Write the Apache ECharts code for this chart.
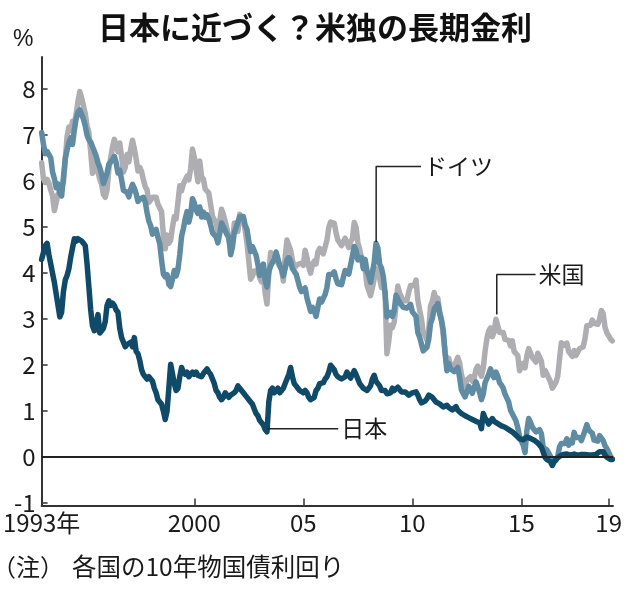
<!DOCTYPE html>
<html>
<head>
<meta charset="utf-8">
<script src="https://cdn.jsdelivr.net/npm/echarts@6/dist/echarts.min.js"></script>
<style>
  html, body { margin: 0; padding: 0; background: #fff; }
  #chart { width: 630px; height: 591px; }
</style>
</head>
<body>
<div id="chart"></div>
<script>
// 10年物国債利回り（%）、1993年1月から月ごと
const startYear = 1993

const usYield = [
  6.40, 6.05, 5.97, 6.04, 5.96, 5.81, 5.68, 5.36, 5.33, 5.72, 5.77, 5.75, // 1993
  5.97, 6.48, 6.97, 7.18, 7.10, 7.30, 7.24, 7.46, 7.74, 7.95, 7.81, 7.78, // 1994
  7.47, 7.20, 7.06, 6.63, 6.17, 6.28, 6.49, 6.20, 6.04, 5.93, 5.71, 5.65, // 1995
  5.81, 6.27, 6.51, 6.74, 6.91, 6.87, 6.64, 6.83, 6.53, 6.20, 6.30, 6.58, // 1996
  6.42, 6.69, 6.89, 6.71, 6.49, 6.22, 6.30, 6.21, 6.03, 5.88, 5.81, 5.54, // 1997
  5.57, 5.65, 5.64, 5.65, 5.50, 5.46, 5.34, 4.81, 4.53, 4.83, 4.65, 4.72, // 1998
  5.00, 5.23, 5.18, 5.54, 5.90, 5.79, 5.94, 5.92, 6.11, 6.03, 6.28, 6.70, // 1999
  6.52, 6.26, 5.99, 6.44, 6.10, 6.05, 5.83, 5.80, 5.74, 5.72, 5.24, 5.16, // 2000
  5.10, 4.89, 5.14, 5.39, 5.28, 5.24, 4.97, 4.73, 4.57, 4.65, 5.09, 5.04, // 2001
  4.91, 5.28, 5.21, 5.16, 4.93, 4.65, 4.26, 3.87, 3.94, 4.05, 4.03, 4.05, // 2002
  3.90, 3.81, 3.96, 3.57, 3.33, 3.98, 4.45, 4.27, 4.29, 4.30, 4.27, 4.15, // 2003
  4.08, 3.83, 4.35, 4.72, 4.73, 4.50, 4.28, 4.13, 4.10, 4.19, 4.23, 4.22, // 2004
  4.17, 4.50, 4.34, 4.14, 4.00, 4.18, 4.26, 4.20, 4.46, 4.54, 4.47, 4.42, // 2005
  4.57, 4.72, 4.99, 5.11, 5.11, 5.09, 4.88, 4.72, 4.73, 4.60, 4.56, 4.76, // 2006
  4.72, 4.56, 4.69, 4.75, 5.10, 5.00, 4.67, 4.52, 4.53, 4.15, 4.10, 3.74, // 2007
  3.74, 3.51, 3.68, 3.88, 4.10, 4.01, 3.89, 3.69, 3.81, 3.53, 2.25, 2.52, // 2008
  2.87, 2.82, 2.93, 3.29, 3.72, 3.56, 3.59, 3.40, 3.39, 3.40, 3.59, 3.73, // 2009
  3.69, 3.73, 3.85, 3.42, 3.20, 3.01, 2.70, 2.65, 2.54, 2.76, 3.29, 3.39, // 2010
  3.58, 3.41, 3.46, 3.17, 3.00, 3.00, 2.30, 1.98, 2.15, 2.01, 1.98, 1.97, // 2011
  1.97, 2.17, 2.05, 1.80, 1.62, 1.53, 1.68, 1.72, 1.75, 1.65, 1.72, 1.91, // 2012
  1.98, 1.96, 1.76, 1.93, 2.30, 2.58, 2.74, 2.81, 2.62, 2.72, 3.00, 2.86, // 2013
  2.71, 2.72, 2.71, 2.56, 2.60, 2.54, 2.42, 2.53, 2.30, 2.33, 2.21, 1.88, // 2014
  1.98, 2.04, 1.94, 2.20, 2.36, 2.32, 2.17, 2.17, 2.07, 2.26, 2.24, 2.09, // 2015
  1.78, 1.89, 1.81, 1.81, 1.64, 1.50, 1.56, 1.63, 1.76, 2.14, 2.49, 2.43, // 2016
  2.42, 2.48, 2.30, 2.30, 2.19, 2.32, 2.21, 2.20, 2.36, 2.35, 2.40, 2.58, // 2017
  2.86, 2.84, 2.87, 2.98, 2.91, 2.89, 2.89, 3.00, 3.19, 3.12, 2.83, 2.71, // 2018
  2.68, 2.57, 2.53                                                        // 2019
]

const germanyYield = [
  7.06, 6.80, 6.60, 6.65, 6.68, 6.51, 6.20, 6.06, 5.86, 5.94, 5.74, 5.68, // 1993
  6.08, 6.49, 6.68, 6.84, 6.94, 6.80, 7.12, 7.36, 7.50, 7.55, 7.45, 7.35, // 1994
  7.20, 7.00, 6.90, 6.85, 6.75, 6.65, 6.55, 6.40, 6.30, 6.15, 5.95, 5.95, // 1995
  6.18, 6.37, 6.38, 6.47, 6.54, 6.40, 6.18, 6.24, 6.03, 5.80, 5.84, 5.76, // 1996
  5.66, 5.82, 5.93, 5.85, 5.73, 5.56, 5.61, 5.58, 5.65, 5.55, 5.32, 5.13, // 1997
  5.03, 4.85, 4.90, 4.95, 4.78, 4.64, 4.28, 3.98, 3.92, 3.97, 3.76, 3.71, // 1998
  3.87, 4.06, 3.94, 4.08, 4.40, 4.80, 4.97, 5.18, 5.34, 5.11, 5.28, 5.62, // 1999
  5.53, 5.37, 5.30, 5.44, 5.22, 5.33, 5.22, 5.27, 5.18, 5.05, 4.88, 4.86, // 2000
  4.79, 4.66, 4.86, 5.09, 5.01, 5.03, 4.84, 4.78, 4.40, 4.57, 4.88, 4.99, // 2001
  4.97, 5.23, 5.21, 5.23, 5.04, 4.95, 4.69, 4.47, 4.58, 4.60, 4.39, 4.19, // 2002
  3.95, 4.09, 4.20, 3.84, 3.70, 4.03, 4.16, 4.16, 4.30, 4.46, 4.32, 4.17, // 2003
  4.08, 3.94, 4.10, 4.29, 4.34, 4.26, 4.10, 4.08, 3.98, 3.84, 3.69, 3.60, // 2004
  3.56, 3.68, 3.46, 3.32, 3.17, 3.26, 3.19, 3.06, 3.26, 3.44, 3.37, 3.38, // 2005
  3.54, 3.69, 3.97, 4.00, 3.98, 4.03, 3.88, 3.77, 3.80, 3.75, 3.79, 4.06, // 2006
  4.08, 3.98, 4.18, 4.37, 4.58, 4.50, 4.29, 4.26, 4.34, 4.10, 4.30, 4.05, // 2007
  3.95, 3.80, 4.02, 4.24, 4.65, 4.55, 4.20, 4.11, 3.93, 3.57, 3.05, 3.10, // 2008
  3.15, 3.06, 3.18, 3.52, 3.48, 3.36, 3.35, 3.26, 3.29, 3.24, 3.24, 3.32, // 2009
  3.16, 3.11, 3.06, 2.71, 2.61, 2.63, 2.31, 2.34, 2.39, 2.56, 2.91, 3.02, // 2010
  3.22, 3.22, 3.34, 3.13, 2.97, 2.76, 2.26, 1.88, 2.04, 1.92, 1.92, 1.86, // 2011
  1.88, 1.95, 1.73, 1.46, 1.43, 1.31, 1.42, 1.54, 1.52, 1.39, 1.36, 1.64, // 2012
  1.60, 1.41, 1.25, 1.37, 1.62, 1.63, 1.80, 1.92, 1.80, 1.73, 1.85, 1.76, // 2013
  1.62, 1.57, 1.50, 1.37, 1.35, 1.20, 1.02, 0.99, 0.87, 0.79, 0.64, 0.45, // 2014
  0.35, 0.26, 0.10, 0.58, 0.84, 0.76, 0.65, 0.65, 0.55, 0.52, 0.60, 0.51, // 2015
  0.21, 0.22, 0.16, 0.15, 0.02, -0.09, -0.09, -0.07, 0.02, 0.23, 0.30, 0.34, // 2016
  0.30, 0.40, 0.26, 0.36, 0.31, 0.54, 0.43, 0.41, 0.43, 0.36, 0.37, 0.58, // 2017
  0.71, 0.59, 0.56, 0.52, 0.37, 0.35, 0.35, 0.47, 0.45, 0.36, 0.25, 0.19, // 2018
  0.11, 0.02, -0.03                                                       // 2019
]

const japanYield = [
  4.30, 4.45, 4.60, 4.65, 4.40, 4.20, 4.00, 3.80, 3.55, 3.30, 3.05, 3.15, // 1993
  3.60, 3.85, 3.95, 4.10, 4.35, 4.55, 4.75, 4.70, 4.75, 4.78, 4.70, 4.65, // 1994
  4.60, 4.20, 3.70, 3.20, 2.85, 2.75, 2.90, 3.10, 2.70, 2.75, 2.80, 2.95, // 1995
  3.30, 3.40, 3.30, 3.35, 3.30, 3.20, 3.15, 2.80, 2.60, 2.50, 2.40, 2.45, // 1996
  2.45, 2.50, 2.40, 2.60, 2.30, 2.25, 2.10, 1.90, 1.80, 1.75, 1.70, 1.75, // 1997
  1.75, 1.65, 1.50, 1.40, 1.25, 1.22, 1.15, 1.00, 0.82, 1.00, 1.50, 2.02, // 1998
  2.00, 1.60, 1.45, 1.50, 1.75, 1.95, 1.85, 1.80, 1.85, 1.75, 1.80, 1.85, // 1999
  1.80, 1.85, 1.78, 1.82, 1.75, 1.82, 1.85, 1.92, 1.85, 1.80, 1.70, 1.60, // 2000
  1.45, 1.40, 1.30, 1.25, 1.30, 1.40, 1.35, 1.30, 1.35, 1.38, 1.40, 1.45, // 2001
  1.55, 1.50, 1.45, 1.40, 1.35, 1.30, 1.25, 1.20, 1.15, 1.05, 0.95, 0.90, // 2002
  0.80, 0.78, 0.70, 0.60, 0.55, 1.20, 1.45, 1.50, 1.40, 1.45, 1.50, 1.40, // 2003
  1.45, 1.50, 1.60, 1.70, 1.80, 1.95, 1.75, 1.60, 1.55, 1.50, 1.45, 1.42, // 2004
  1.40, 1.45, 1.40, 1.30, 1.25, 1.28, 1.30, 1.45, 1.50, 1.60, 1.58, 1.62, // 2005
  1.70, 1.75, 1.85, 2.00, 1.95, 1.90, 1.80, 1.75, 1.75, 1.70, 1.70, 1.75, // 2006
  1.85, 1.78, 1.72, 1.80, 1.88, 1.80, 1.70, 1.60, 1.55, 1.50, 1.48, 1.45, // 2007
  1.50, 1.55, 1.70, 1.78, 1.65, 1.60, 1.55, 1.45, 1.45, 1.45, 1.38, 1.35, // 2008
  1.40, 1.50, 1.45, 1.45, 1.52, 1.50, 1.42, 1.45, 1.42, 1.40, 1.35, 1.38, // 2009
  1.40, 1.38, 1.42, 1.35, 1.25, 1.18, 1.16, 1.22, 1.27, 1.35, 1.32, 1.30, // 2010
  1.25, 1.20, 1.18, 1.16, 1.12, 1.09, 1.12, 1.13, 1.08, 1.05, 1.03, 1.02, // 2011
  1.10, 1.02, 1.00, 0.95, 0.92, 0.90, 0.88, 0.86, 0.84, 0.82, 0.80, 0.78, // 2012
  0.77, 0.75, 0.62, 0.95, 0.85, 0.80, 0.72, 0.70, 0.84, 0.78, 0.75, 0.73, // 2013
  0.70, 0.68, 0.66, 0.65, 0.63, 0.60, 0.58, 0.55, 0.52, 0.48, 0.44, 0.40, // 2014
  0.36, 0.38, 0.42, 0.44, 0.43, 0.41, 0.39, 0.37, 0.34, 0.31, 0.28, 0.22, // 2015
  0.20, 0.00, -0.05, -0.08, -0.10, -0.18, -0.10, -0.05, -0.05, 0.02, 0.05, 0.06, // 2016
  0.06, 0.07, 0.05, 0.04, 0.06, 0.07, 0.06, 0.04, 0.05, 0.06, 0.05, 0.06, // 2017
  0.07, 0.05, 0.04, 0.05, 0.04, 0.06, 0.10, 0.12, 0.14, 0.12, 0.05, 0.00, // 2018
  -0.03, -0.05, -0.05                                                     // 2019
]

const yTicks = [-1, 0, 1, 2, 3, 4, 5, 6, 7, 8]
const xLabelYears = [1993, 2000, 2005, 2010, 2015, 2019]
const xLabelText = ['1993年', '2000', '05', '10', '15', '19']

const numFont = "'Liberation Sans Narrow', 'Noto Sans CJK JP', sans-serif"
const jpFont = "'Noto Sans CJK JP', sans-serif"
const ink = '#1a1a1a'

const toPairs = arr => arr.map((v, i) => [startYear + i / 12, v])

const leader = (name, points, text) => ({
  name,
  type: 'line',
  data: points,
  symbol: 'none',
  silent: true,
  z: 5,
  lineStyle: { color: '#222', width: 1.5 },
  endLabel: {
    show: true,
    formatter: text,
    distance: 3,
    color: ink,
    fontSize: 23,
    fontFamily: jpFont
  }
})

const rateLine = (name, arr, color, z) => ({
  name,
  type: 'line',
  data: toPairs(arr),
  symbol: 'none',
  z,
  lineStyle: { color, width: 5.5, cap: 'round', join: 'round' }
})

const chart = echarts.init(document.getElementById('chart'))

chart.setOption({
  animation: false,
  backgroundColor: '#fff',
  title: {
    text: '日本に近づく？米独の長期金利',
    left: 'center',
    top: 12,
    padding: 0,
    textStyle: { fontSize: 31, fontWeight: 'bold', fontFamily: jpFont, color: '#111' }
  },
  graphic: [
    {
      type: 'text',
      left: 13,
      top: 28,
      style: { text: '%', fontSize: 23, fontFamily: "'Liberation Sans', sans-serif", fill: ink }
    },
    {
      type: 'text',
      x: -8,
      y: 567,
      style: { text: '（注）', fontSize: 24, fontFamily: jpFont, fill: ink, verticalAlign: 'middle' }
    },
    {
      type: 'text',
      x: 72,
      y: 567,
      style: { text: '各国の10年物国債利回り', fontSize: 24.5, fontFamily: jpFont, fill: ink, verticalAlign: 'middle' }
    }
  ],
  grid: { left: 39, right: 17, top: 57, bottom: 85.5, containLabel: false },
  xAxis: {
    type: 'value',
    min: 1993,
    max: 2019.2,
    splitLine: { show: false },
    axisLine: { show: true, onZero: false, lineStyle: { color: '#333', width: 2 } },
    axisTick: {
      show: true,
      inside: true,
      length: 7,
      customValues: xLabelYears.slice(1),
      lineStyle: { color: '#333', width: 1.5 }
    },
    axisLabel: {
      customValues: xLabelYears,
      formatter: v => xLabelText[xLabelYears.indexOf(v)],
      margin: 5,
      fontSize: 24,
      fontFamily: numFont,
      color: ink
    }
  },
  yAxis: {
    type: 'value',
    min: -1.05,
    max: 8.7,
    splitLine: { show: false },
    axisLine: { show: true, lineStyle: { color: '#333', width: 2 } },
    axisTick: {
      show: true,
      inside: true,
      length: 6,
      customValues: yTicks,
      lineStyle: { color: '#333', width: 1.5 }
    },
    axisLabel: {
      customValues: yTicks,
      margin: 6,
      fontSize: 24,
      fontFamily: numFont,
      color: ink
    }
  },
  series: [
    rateLine('米国', usYield, '#aeadb2', 2),
    rateLine('ドイツ', germanyYield, '#5f8ba3', 3),
    Object.assign(rateLine('日本', japanYield, '#0f4a68', 4), {
      markLine: {
        silent: true,
        symbol: ['none', 'none'],
        label: { show: false },
        lineStyle: { color: '#222', width: 2, type: 'solid' },
        data: [{ yAxis: 0 }]
      }
    }),
    leader('ドイツ注', [[2008.34, 4.68], [2008.34, 6.32], [2010.4, 6.32]], 'ドイツ'),
    leader('米国注', [[2013.87, 3.1], [2013.87, 3.97], [2015.65, 3.97]], '米国'),
    leader('日本注', [[2003.36, 0.62], [2006.6, 0.62]], '日本')
  ]
})
</script>
</body>
</html>
